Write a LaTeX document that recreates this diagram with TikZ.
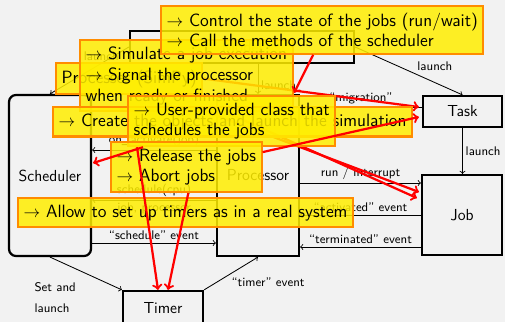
\documentclass[tikz,border=0pt]{standalone}
\usepackage{fontspec}
\usepackage{tikz}
\usetikzlibrary{arrows}
\usetikzlibrary{calc}
\definecolor{bgray}{HTML}{F2F2F2}
\definecolor{noteyellow}{HTML}{FFEE00}
\definecolor{noteorange}{HTML}{FF8C00}

\begin{document}
\begin{tikzpicture}[x=0.72pt,y=-0.72pt,
  obj/.style={draw,line width=1.6pt,inner sep=0pt,font=\sffamily\fontsize{11.5}{13}\selectfont},
  lbl/.style={font=\sffamily\fontsize{9}{10}\selectfont,inner sep=2pt},
  flow/.style={->,line width=0.6pt},
  note/.style={draw=noteorange,line width=1.5pt,fill=noteyellow,fill opacity=0.85,text opacity=1,
    anchor=north west,align=left,inner xsep=4pt,inner ysep=4.8pt,font=\sffamily\fontsize{12.8}{15}\selectfont},
  hint/.style={->,red,line width=1.6pt}]
  \useasboundingbox (0,0) rectangle (505,322);
  \clip (0,0) rectangle (505,322);
  \fill[bgray] (0,0) rectangle (505,322);

  % simulation objects
  \node[obj,rounded corners=5pt,minimum width=59pt,minimum height=115.9pt] (sched) at (50,175.5) {Scheduler};
  \node[obj,minimum width=59pt,minimum height=115.9pt] (proc) at (258,175.5) {Processor};
  \node[obj,minimum width=161.3pt,minimum height=23pt] (model) at (242,47) {Model};
  \node[obj,minimum width=56.9pt,minimum height=22.3pt] (task) at (462.5,111.5) {Task};
  \node[obj,minimum width=57.6pt,minimum height=57.6pt] (job) at (462,215) {Job};
  \node[obj,minimum width=57.6pt,minimum height=24.5pt] (timer) at (163,308) {Timer};

  \draw[flow] (model.west) -- node[lbl,pos=.35,above] {launch} (sched.north);
  \draw[flow] (proc.north |- model.south) -- node[lbl,pos=.7,right] {launch} (proc.north);
  \draw[flow] (model.east) -- node[lbl,pos=.55,above right] {launch} (task.north);
  \draw[flow] (task.south) -- node[lbl,right] {launch} (task.south |- job.north);

  % horizontal links
  \coordinate (m) at (0,107);
  \coordinate (a) at (0,150);
  \coordinate (b) at (0,200);
  \coordinate (c) at (0,243);
  \coordinate (d) at (0,183);
  \coordinate (e) at (0,215);
  \coordinate (f) at (0,247);
  \draw[flow] (task.west |- m) -- node[lbl,above] {“migration”} (proc.east |- m);
  \draw[flow] (proc.west |- a) -- node[lbl,above] {on\_activate(job)} (sched.east |- a);
  \draw[flow] (proc.west |- b) -- node[lbl,above] {schedule(cpu)} node[lbl,below] {job, processor} (sched.east |- b);
  \draw[flow] (sched.east |- c) -- node[lbl,above] {“schedule” event} (proc.west |- c);
  \draw[flow] (proc.east |- d) -- node[lbl,above] {run / interrupt} (job.west |- d);
  \draw[flow] (job.west |- e) -- node[lbl,above] {“activated” event} (proc.east |- e);
  \draw[flow] (job.west |- f) -- node[lbl,above] {“terminated” event} (proc.east |- f);
  \draw[flow] (sched.south) -- node[lbl,pos=.5,anchor=north east,xshift=-5pt,yshift=-4pt,align=left,font=\sffamily\fontsize{9}{15}\selectfont] {Set and\\launch} (timer.north west);
  \draw[flow] (timer.north east) -- node[lbl,pos=.45,below right] {“timer” event} (proc.south);

  % callouts
  \node[note] (cpr) at (55,62) {Processes (SimPy)};
  \draw[hint] (cpr.east) -- ($(task.west)+(-3,-4.5)$);
  \node[note] (csim) at (79,39) {$\rightarrow$ Simulate a job execution\\$\rightarrow$ Signal the processor\\when ready or finished};
  \draw[hint] ($(csim.south)+(22,0)$) -- ($(job.west)+(-2,-23)$);
  \draw[hint] ($(csim.south)+(40,0)$) -- ($(job.west)+(-4,-17)$);
  \node[note] (cctrl) at (160,5) {$\rightarrow$ Control the state of the jobs (run/wait)\\$\rightarrow$ Call the methods of the scheduler};
  \draw[hint] ($(cctrl.south)+(-9,0)$) -- ($(proc.north east)+(-6,-1)$);
  \node[note] (ccreate) at (52,106) {$\rightarrow$ Create the objects and launch the simulation};
  \node[note] (cuser) at (127,95) {$\rightarrow$ User-provided class that\\schedules the jobs};
  \node[note] (crel) at (110,141) {$\rightarrow$ Release the jobs\\$\rightarrow$ Abort jobs};
  \node[note] (callow) at (17,197) {$\rightarrow$ Allow to set up timers as in a real system};
  \draw[hint] ($(cuser.south west)+(16,0)$) -- ($(sched.east)+(1,-12.5)$);
  \draw[hint] ($(crel.east)+(0,-15)$) -- ($(task.west)+(-3,5.5)$);
  \draw[hint] ($(cuser.south west)+(10,0)$) -- ($(timer.north)+(-5,0)$);
  \draw[hint] ($(crel.south)+(2,0)$) -- ($(timer.north)+(5,0)$);
\end{tikzpicture}
\end{document}
